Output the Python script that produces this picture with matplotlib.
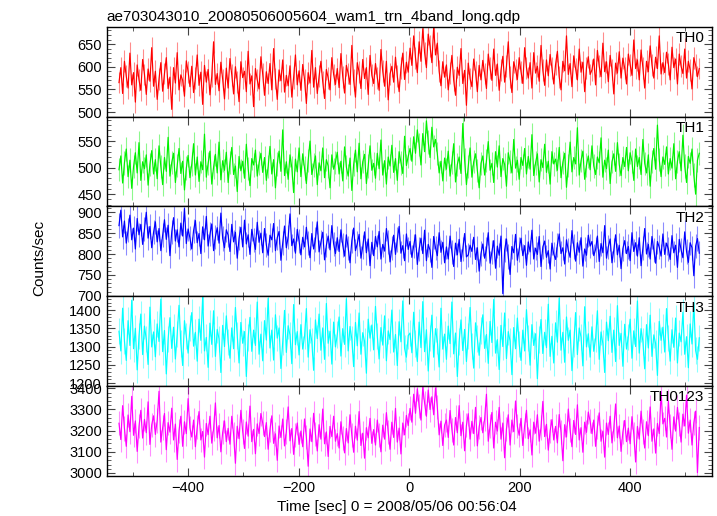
import numpy as np
import matplotlib
matplotlib.use("Agg")
import matplotlib.pyplot as plt
from matplotlib.ticker import MultipleLocator

plt.rcParams['font.family'] = ['Liberation Sans', 'DejaVu Sans']

title = "ae703043010_20080506005604_wam1_trn_4band_long.qdp"
t_start, t_stop = -525, 525

th0 = [565, 598, 541, 612, 579, 553, 630, 560, 587, 522, 604, 571, 548, 616, 583, 539, 595, 568, 642, 557,
       590, 528, 573, 609, 546, 585, 620, 552, 577, 506, 598, 564, 631, 549, 582, 570, 535, 613, 589, 556,
       601, 543, 575, 626, 559, 588, 517, 603, 566, 594, 538, 579, 655, 561, 585, 547, 610, 572, 529, 597,
       553, 618, 582, 540, 600, 567, 523, 611, 576, 590, 545, 634, 562, 580, 512, 596, 571, 551, 622, 584,
       537, 589, 563, 607, 549, 640, 574, 528, 593, 569, 615, 544, 581, 558, 602, 533, 576, 626, 560, 591,
       548, 605, 572, 519, 587, 564, 636, 555, 598, 541, 579, 612, 567, 530, 594, 575, 549, 620, 583, 561,
       596, 554, 629, 578, 542, 603, 585, 561, 647, 570, 533, 609, 588, 552, 616, 574, 598, 539, 625, 581,
       563, 607, 576, 548, 638, 590, 557, 612, 527, 584, 601, 566, 621, 579, 545, 597, 630, 572, 610, 588,
       641, 603, 668, 620, 587, 655, 612, 684, 631, 598, 672, 645, 609, 688, 626, 652, 590, 558, 611, 577,
       604, 549, 586, 625, 570, 537, 599, 581, 640, 563, 592, 515, 608, 574, 556, 617, 589, 545, 603, 571,
       614, 585, 552, 628, 597, 570, 639, 581, 606, 548, 592, 623, 566, 601, 655, 578, 543, 611, 594, 572,
       620, 589, 563, 642, 598, 575, 609, 553, 631, 586, 601, 568, 647, 592, 559, 615, 580, 627, 597, 562,
       605, 634, 578, 549, 612, 591, 668, 583, 607, 556, 624, 596, 571, 639, 588, 610, 545, 598, 622, 583,
       593, 617, 560, 636, 601, 578, 652, 589, 611, 567, 625, 594, 540, 608, 586, 633, 575, 619, 597, 562,
       628, 604, 581, 659, 596, 615, 571, 637, 598, 553, 612, 589, 646, 604, 575, 621, 596, 668, 584, 609,
       587, 632, 606, 571, 643, 598, 617, 562, 628, 601, 585, 639, 575, 612, 593, 551, 620, 603, 578, 596]
th1 = [496, 522, 471, 509, 535, 483, 514, 461, 502, 528, 490, 547, 476, 511, 498, 524, 467, 506, 532, 488,
       515, 479, 541, 502, 468, 519, 493, 557, 484, 510, 527, 472, 504, 536, 489, 512, 458, 499, 523, 481,
       507, 545, 486, 520, 474, 511, 496, 563, 482, 508, 531, 469, 501, 525, 490, 548, 477, 513, 495, 529,
       472, 510, 538, 487, 503, 455, 521, 494, 512, 480, 544, 498, 466, 517, 505, 533, 484, 509, 527, 491,
       519, 476, 502, 540, 488, 515, 462, 507, 531, 493, 571, 485, 511, 478, 524, 500, 453, 516, 492, 537,
       483, 526, 499, 470, 513, 550, 487, 505, 522, 468, 509, 494, 537, 481, 515, 503, 462, 524, 497, 510,
       529, 488, 512, 475, 539, 501, 484, 518, 457, 506, 533, 492, 546, 479, 511, 525, 470, 503, 541, 495,
       508, 480, 527, 498, 552, 486, 513, 469, 520, 503, 542, 491, 517, 476, 530, 509, 489, 559, 504, 521,
       536, 512, 558, 527, 571, 543, 505, 564, 530, 588, 548, 519, 576, 539, 553, 526, 490, 512, 475, 518,
       497, 531, 484, 510, 545, 473, 506, 520, 489, 583, 514, 468, 502, 537, 482, 511, 526, 495, 462, 508,
       522, 486, 513, 549, 495, 508, 472, 530, 501, 541, 483, 517, 506, 465, 528, 511, 490, 553, 499, 514,
       478, 519, 504, 536, 488, 521, 497, 562, 485, 509, 526, 473, 515, 500, 544, 491, 512, 469, 530, 507,
       516, 495, 538, 481, 510, 527, 463, 504, 548, 492, 519, 507, 575, 486, 513, 531, 478, 505, 522, 496,
       541, 503, 487, 520, 509, 556, 482, 514, 498, 533, 470, 511, 526, 493, 547, 506, 485, 519, 502, 538,
       494, 528, 511, 476, 535, 502, 519, 487, 553, 508, 490, 524, 465, 512, 536, 497, 580, 515, 483, 520,
       506, 539, 488, 517, 499, 545, 479, 512, 530, 494, 561, 503, 472, 521, 508, 535, 486, 450, 514, 527]
th2 = [868, 905, 841, 879, 826, 857, 893, 834, 862, 812, 885, 846, 871, 823, 859, 900, 838, 866, 815, 852,
       877, 829, 861, 808, 846, 882, 835, 869, 796, 853, 887, 831, 858, 817, 874, 843, 909, 825, 860, 838,
       812, 856, 880, 827, 849, 801, 865, 834, 890, 819, 847, 872, 808, 841, 863, 826, 898, 837, 815, 858,
       845, 806, 871, 829, 852, 790, 838, 864, 817, 881, 824, 846, 799, 859, 833, 811, 876, 828, 850, 803,
       861, 822, 797, 845, 834, 873, 808, 839, 854, 785, 826, 867, 815, 841, 896, 820, 836, 802, 859, 831,
       798, 840, 817, 864, 826, 791, 849, 812, 835, 877, 805, 829, 852, 786, 821, 843, 810, 868, 824, 801,
       839, 806, 858, 821, 795, 846, 814, 779, 832, 862, 808, 825, 847, 790, 817, 853, 803, 836, 772, 828,
       796, 842, 817, 854, 788, 823, 807, 861, 829, 781, 814, 845, 799, 835, 866, 802, 820, 784, 848, 811,
       830, 792, 819, 846, 775, 812, 838, 801, 857, 784, 823, 809, 768, 842, 815, 796, 851, 804, 828, 779,
       817, 788, 843, 805, 770, 826, 798, 835, 782, 812, 849, 793, 798, 821, 806, 840, 787, 815, 759, 801,
       824, 790, 812, 851, 778, 805, 832, 766, 819, 797, 843, 705, 809, 836, 794, 751, 818, 803, 847, 785,
       811, 838, 796, 820, 773, 829, 805, 857, 788, 814, 799, 842, 770, 817, 831, 792, 808, 764, 826, 800,
       787, 822, 848, 801, 815, 776, 834, 809, 792, 856, 818, 783, 827, 804, 839, 771, 812, 797, 845, 819,
       830, 796, 811, 843, 782, 825, 803, 868, 790, 817, 836, 779, 809, 846, 798, 821, 765, 813, 832, 801,
       818, 784, 851, 806, 827, 795, 839, 772, 814, 861, 800, 823, 788, 842, 809, 778, 830, 816, 795, 848,
       799, 826, 812, 787, 844, 803, 821, 768, 835, 810, 791, 853, 806, 780, 827, 815, 748, 819, 837, 802]
th3 = [1342, 1288, 1405, 1315, 1262, 1371, 1303, 1427, 1294, 1350, 1236, 1329, 1389, 1278, 1356, 1320, 1251, 1408, 1299, 1340,
       1272, 1362, 1314, 1430, 1286, 1344, 1225, 1320, 1379, 1295, 1353, 1266, 1334, 1413, 1308, 1248, 1371, 1328, 1282, 1350,
       1393, 1301, 1339, 1260, 1375, 1317, 1436, 1288, 1325, 1243, 1364, 1306, 1398, 1273, 1347, 1321, 1229, 1358, 1300, 1384,
       1313, 1268, 1351, 1294, 1407, 1330, 1255, 1366, 1309, 1341, 1218, 1325, 1380, 1287, 1345, 1303, 1422, 1279, 1334, 1261,
       1371, 1318, 1432, 1296, 1345, 1263, 1387, 1323, 1351, 1240, 1312, 1399, 1284, 1357, 1332, 1253, 1415, 1305, 1341, 1277,
       1360, 1293, 1328, 1404, 1271, 1346, 1314, 1235, 1373, 1322, 1389, 1290, 1351, 1265, 1418, 1309, 1342, 1252, 1367, 1299,
       1333, 1381, 1274, 1349, 1306, 1431, 1288, 1355, 1320, 1245, 1366, 1302, 1392, 1279, 1338, 1314, 1227, 1375, 1323, 1359,
       1291, 1410, 1329, 1266, 1352, 1304, 1384, 1261, 1343, 1319, 1400, 1285, 1333, 1248, 1368, 1313, 1425, 1295, 1271, 1330,
       1337, 1283, 1394, 1308, 1259, 1367, 1297, 1423, 1286, 1346, 1233, 1323, 1386, 1271, 1349, 1315, 1244, 1405, 1293, 1334,
       1265, 1356, 1308, 1422, 1280, 1337, 1218, 1314, 1373, 1289, 1347, 1259, 1328, 1407, 1302, 1241, 1365, 1322, 1276, 1344,
       1387, 1295, 1333, 1254, 1369, 1311, 1429, 1282, 1319, 1237, 1358, 1300, 1392, 1267, 1341, 1315, 1223, 1352, 1294, 1378,
       1307, 1262, 1345, 1288, 1401, 1324, 1249, 1360, 1303, 1335, 1212, 1319, 1374, 1281, 1339, 1297, 1416, 1273, 1328, 1255,
       1365, 1312, 1433, 1290, 1339, 1257, 1381, 1317, 1345, 1234, 1306, 1393, 1278, 1351, 1326, 1247, 1409, 1299, 1335, 1271,
       1354, 1287, 1322, 1398, 1265, 1340, 1308, 1229, 1367, 1316, 1383, 1284, 1345, 1259, 1412, 1303, 1336, 1246, 1361, 1293,
       1327, 1375, 1268, 1343, 1300, 1425, 1282, 1349, 1314, 1239, 1360, 1296, 1386, 1273, 1332, 1308, 1221, 1369, 1317, 1353,
       1285, 1404, 1323, 1260, 1346, 1298, 1378, 1255, 1337, 1313, 1394, 1279, 1327, 1242, 1362, 1307, 1419, 1289, 1265, 1324]
th0123 = [3235, 3158, 3318, 3210, 3126, 3274, 3195, 3362, 3178, 3246, 3102, 3220, 3296, 3165, 3253, 3190, 3336, 3135, 3228, 3270,
          3182, 3248, 3386, 3146, 3215, 3281, 3110, 3238, 3193, 3306, 3156, 3231, 3064, 3200, 3268, 3126, 3242, 3186, 3351, 3213,
          3170, 3250, 3124, 3216, 3290, 3156, 3196, 3075, 3234, 3181, 3268, 3141, 3208, 3331, 3166, 3224, 3100, 3192, 3246, 3148,
          3211, 3136, 3268, 3184, 3046, 3221, 3162, 3296, 3196, 3116, 3241, 3174, 3316, 3148, 3206, 3091, 3232, 3186, 3281, 3236,
          3172, 3238, 3112, 3205, 3270, 3140, 3185, 3060, 3222, 3168, 3255, 3128, 3196, 3312, 3152, 3210, 3088, 3180, 3236, 3135,
          3198, 3124, 3255, 3170, 3032, 3208, 3148, 3282, 3184, 3104, 3228, 3160, 3302, 3138, 3194, 3078, 3220, 3172, 3268, 3150,
          3186, 3118, 3242, 3165, 3095, 3210, 3142, 3275, 3178, 3098, 3221, 3155, 3290, 3130, 3188, 3070, 3214, 3166, 3258, 3140,
          3205, 3132, 3250, 3178, 3100, 3226, 3160, 3285, 3192, 3112, 3240, 3168, 3305, 3146, 3212, 3090, 3236, 3180, 3272, 3224,
          3305, 3240, 3372, 3282, 3398, 3315, 3250, 3405, 3330, 3268, 3392, 3300, 3360, 3275, 3402, 3310, 3180, 3245, 3130, 3226,
          3250, 3168, 3295, 3205, 3132, 3262, 3190, 3318, 3176, 3240, 3105, 3225, 3280, 3160, 3244, 3186, 3310, 3128, 3218, 3262,
          3190, 3255, 3372, 3150, 3222, 3286, 3118, 3240, 3198, 3310, 3160, 3236, 3072, 3208, 3275, 3132, 3250, 3195, 3340, 3220,
          3178, 3258, 3130, 3224, 3296, 3162, 3204, 3085, 3240, 3188, 3275, 3150, 3215, 3338, 3172, 3230, 3108, 3198, 3252, 3156,
          3220, 3142, 3276, 3192, 3058, 3228, 3170, 3302, 3204, 3124, 3248, 3182, 3322, 3156, 3214, 3098, 3240, 3192, 3288, 3244,
          3186, 3250, 3126, 3218, 3284, 3150, 3198, 3075, 3236, 3182, 3268, 3142, 3210, 3326, 3166, 3222, 3102, 3194, 3248, 3148,
          3212, 3138, 3266, 3184, 3052, 3220, 3160, 3292, 3196, 3118, 3242, 3176, 3312, 3150, 3208, 3094, 3234, 3186, 3384, 3232,
          3258, 3170, 3340, 3220, 3112, 3265, 3198, 3310, 3232, 3146, 3278, 3222, 3368, 3188, 3250, 3132, 3238, 3292, 3002, 3215]

names = ["TH0", "TH1", "TH2", "TH3", "TH0123"]
series = [th0, th1, th2, th3, th0123]
errors = [24, 22, 29, 36, 57]
colors = ["#ff0000", "#00f000", "#0000ff", "#00ffff", "#ff00ff"]
ylims = [(490, 688), (427, 596), (699, 914), (1192, 1438), (2987, 3411)]
ymajor = [50, 50, 50, 50, 100]
yminor = [10, 10, 10, 10, 20]

fig = plt.figure(figsize=(7.17, 5.16), dpi=100)
gs = fig.add_gridspec(5, 1, left=0.149, right=0.993, top=0.948, bottom=0.078, hspace=0)

for k in range(5):
    ax = fig.add_subplot(gs[k])
    y = np.array(series[k])
    t = np.linspace(t_start, t_stop, len(y))
    # light error bars behind the rate curve
    ax.errorbar(t, y, yerr=errors[k], fmt="none", ecolor=colors[k], alpha=0.45, elinewidth=0.8)
    ax.plot(t, y, color=colors[k], lw=0.85)
    ax.set_xlim(-547, 548)
    ax.set_ylim(*ylims[k])
    ax.xaxis.set_major_locator(MultipleLocator(200))
    ax.xaxis.set_minor_locator(MultipleLocator(100))
    ax.yaxis.set_major_locator(MultipleLocator(ymajor[k]))
    ax.yaxis.set_minor_locator(MultipleLocator(yminor[k]))
    ax.tick_params(which="both", direction="in", top=True, right=True, labelsize=10.5, color="#444444")
    ax.tick_params(which="major", length=6)
    ax.tick_params(which="minor", length=3)
    for s in ax.spines.values():
        s.set_linewidth(1.0)
    if k < 4:
        ax.tick_params(labelbottom=False)
    ax.text(0.987, 0.95, names[k], transform=ax.transAxes, ha="right", va="top", fontsize=11)
    if k == 0:
        ax.set_title(title, loc="left", fontsize=11, pad=4)

fig.text(0.055, 0.5, "Counts/sec", rotation=90, ha="center", va="center", fontsize=11)
fig.text(0.554, 0.017, "Time [sec] 0 = 2008/05/06 00:56:04", ha="center", va="center", fontsize=11)

fig.savefig("out.png", dpi=100)
